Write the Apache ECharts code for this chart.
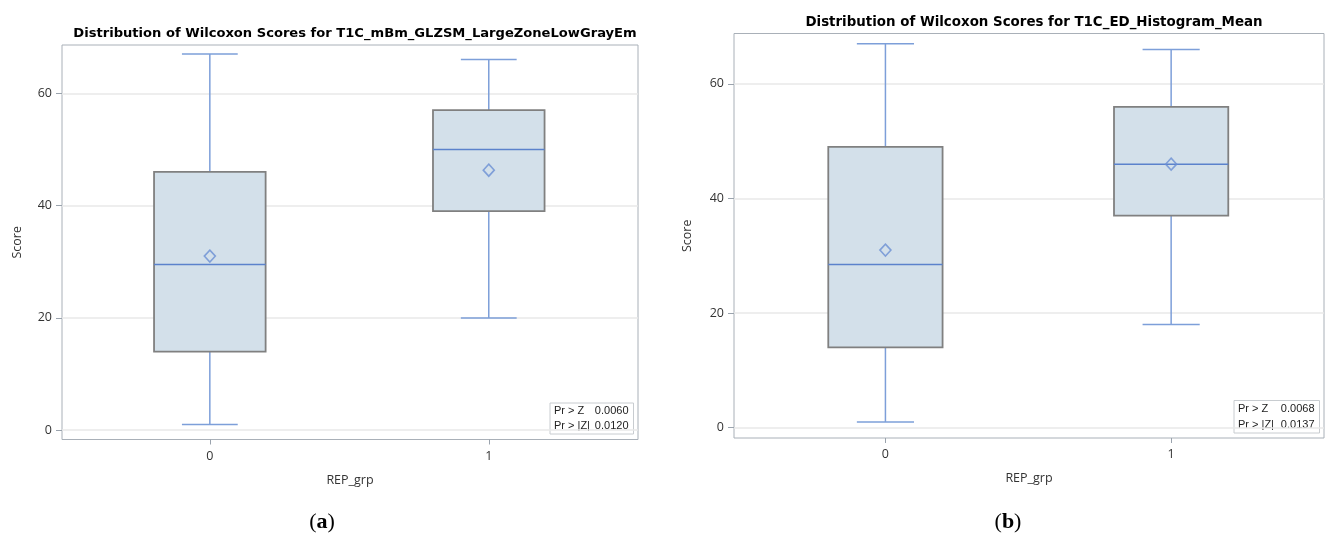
<!DOCTYPE html>
<html>
<head>
<meta charset="utf-8">
<script src="https://cdn.jsdelivr.net/npm/echarts@6/dist/echarts.min.js"></script>
<style>
  html, body { margin: 0; padding: 0; background: #fff; }
  #chart { width: 1325px; height: 540px; }
</style>
</head>
<body>
<div id="chart"></div>
<script>
// Group labels on the x axis
const groups = ['0', '1'];
const groupPos = [0, 1];
const yTicks = [0, 20, 40, 60];

// (a) T1C_mBm_GLZSM_LargeZoneLowGrayEm — five-number summary per group
const aWhiskerLow = [1, 20];
const aQ1 = [14, 39];
const aMedian = [29.5, 50];
const aQ3 = [46, 57];
const aWhiskerHigh = [67, 66];
const aMean = [31, 46.3];
const aStats = [['Pr > Z', '0.0060'], ['Pr > |Z|', '0.0120']];

// (b) T1C_ED_Histogram_Mean — five-number summary per group
const bWhiskerLow = [1, 18];
const bQ1 = [14, 37];
const bMedian = [28.5, 46];
const bQ3 = [49, 56];
const bWhiskerHigh = [67, 66];
const bMean = [31, 46];
const bStats = [['Pr > Z', '0.0068'], ['Pr > |Z|', '0.0137']];

const titleA = 'Distribution of Wilcoxon Scores for T1C_mBm_GLZSM_LargeZoneLowGrayEm';
const titleB = 'Distribution of Wilcoxon Scores for T1C_ED_Histogram_Mean';

const FONT = "'Open Sans', 'Liberation Sans', sans-serif";
const TITLE_FONT = "'DejaVu Sans', 'Liberation Sans', sans-serif";
const WHISKER = '#7d9fd9';
const MEDIAN = '#5b82cc';
const BOX_FILL = '#d3e0ea';
const BOX_EDGE = '#808080';

function boxRows(lo, q1, med, q3, hi) {
  return groupPos.map((x, i) => [x, lo[i], q1[i], med[i], q3[i], hi[i]]);
}

function renderBox(params, api) {
  const x = api.value(0);
  const pLo = api.coord([x, api.value(1)]);
  const pQ1 = api.coord([x, api.value(2)]);
  const pMed = api.coord([x, api.value(3)]);
  const pQ3 = api.coord([x, api.value(4)]);
  const pHi = api.coord([x, api.value(5)]);
  const boxW = api.size([0.4, 0])[0];
  const capW = api.size([0.2, 0])[0];
  const cx = pMed[0];
  const wStyle = { stroke: WHISKER, lineWidth: 1.5 };
  return {
    type: 'group',
    children: [
      { type: 'line', shape: { x1: cx, y1: pLo[1], x2: cx, y2: pQ1[1] }, style: wStyle },
      { type: 'line', shape: { x1: cx, y1: pQ3[1], x2: cx, y2: pHi[1] }, style: wStyle },
      { type: 'line', shape: { x1: cx - capW / 2, y1: pLo[1], x2: cx + capW / 2, y2: pLo[1] }, style: wStyle },
      { type: 'line', shape: { x1: cx - capW / 2, y1: pHi[1], x2: cx + capW / 2, y2: pHi[1] }, style: wStyle },
      { type: 'rect', shape: { x: cx - boxW / 2, y: pQ3[1], width: boxW, height: pQ1[1] - pQ3[1] },
        style: { fill: BOX_FILL, stroke: BOX_EDGE, lineWidth: 1.8 } },
      { type: 'line', shape: { x1: cx - boxW / 2, y1: pMed[1], x2: cx + boxW / 2, y2: pMed[1] },
        style: { stroke: MEDIAN, lineWidth: 1.5 } }
    ]
  };
}

function xAxisFor(gridIndex) {
  return {
    type: 'value', gridIndex: gridIndex, min: -0.53, max: 1.535, position: 'bottom',
    name: 'REP_grp', nameLocation: 'middle', nameGap: 34,
    nameTextStyle: { fontFamily: FONT, fontSize: 12.5, color: '#333' },
    axisLine: { show: false, onZero: false },
    axisTick: { show: true, length: 5, customValues: groupPos, lineStyle: { color: '#9aa3ad' } },
    axisLabel: { customValues: groupPos, margin: 10, fontFamily: FONT, fontSize: 12.5, color: '#333',
      formatter: v => groups[Math.round(v)] },
    splitLine: { show: false }
  };
}

function yAxisFor(gridIndex, min, max, gap) {
  return {
    type: 'value', gridIndex: gridIndex, min: min, max: max, position: 'left',
    name: 'Score', nameLocation: 'middle', nameGap: gap, nameRotate: 90,
    nameTextStyle: { fontFamily: FONT, fontSize: 12.5, color: '#333' },
    axisLine: { show: false, onZero: false },
    axisTick: { show: true, length: 6, customValues: yTicks, lineStyle: { color: '#9aa3ad' } },
    axisLabel: { customValues: yTicks, margin: 10, fontFamily: FONT, fontSize: 12.5, color: '#333' },
    splitLine: { show: true, lineStyle: { color: '#e9e9e9', width: 1.5 } }
  };
}

function statsBox(stats, x, y, w, h) {
  const rowH = h / 2;
  const children = [
    { type: 'rect', shape: { x: 0, y: 0, width: w, height: h },
      style: { fill: '#fff', stroke: '#c8ccd0', lineWidth: 1 } }
  ];
  stats.forEach((row, i) => {
    children.push({ type: 'text', x: 4, y: rowH * i + rowH / 2,
      style: { text: row[0], fontFamily: "'Liberation Sans', sans-serif", fontSize: 11, fill: '#222',
        verticalAlign: 'middle', align: 'left' } });
    children.push({ type: 'text', x: w - 5, y: rowH * i + rowH / 2,
      style: { text: row[1], fontFamily: "'Liberation Sans', sans-serif", fontSize: 11, fill: '#222',
        verticalAlign: 'middle', align: 'right' } });
  });
  return { type: 'group', x: x, y: y, z: 100, children: children };
}

function captionText(letter) {
  return '{p|(}{b|' + letter + '}{p|)}';
}
const captionRich = {
  p: { fontFamily: "'Liberation Serif', serif", fontSize: 22, color: '#000' },
  b: { fontFamily: "'Liberation Serif', serif", fontSize: 22, fontWeight: 'bold', color: '#000' }
};

const chart = echarts.init(document.getElementById('chart'));
chart.setOption({
  backgroundColor: '#fff',
  animation: false,
  title: [
    { text: titleA, left: 350, top: 22, textAlign: 'center',
      textStyle: { fontFamily: TITLE_FONT, fontWeight: 'bold', fontSize: 13.1, color: '#000' } },
    { text: titleB, left: 1029, top: 11, textAlign: 'center',
      textStyle: { fontFamily: TITLE_FONT, fontWeight: 'bold', fontSize: 13.4, color: '#000' } }
  ],
  grid: [
    { left: 62, top: 45, width: 576, height: 394.5, show: true, borderColor: '#a9b0b8', borderWidth: 1, backgroundColor: 'transparent' },
    { left: 734, top: 33.5, width: 590, height: 404.5, show: true, borderColor: '#a9b0b8', borderWidth: 1, backgroundColor: 'transparent' }
  ],
  xAxis: [xAxisFor(0), xAxisFor(1)],
  yAxis: [yAxisFor(0, -1.66, 68.6, 38), yAxisFor(1, -1.8, 68.8, 40)],
  series: [
    { type: 'custom', xAxisIndex: 0, yAxisIndex: 0, renderItem: renderBox,
      encode: { x: 0, y: [1, 2, 3, 4, 5] },
      data: boxRows(aWhiskerLow, aQ1, aMedian, aQ3, aWhiskerHigh) },
    { type: 'scatter', xAxisIndex: 0, yAxisIndex: 0, symbol: 'diamond', symbolSize: [11, 12],
      itemStyle: { color: 'transparent', borderColor: '#6a8fd3', borderWidth: 1.6 }, z: 5,
      data: groupPos.map((x, i) => [x, aMean[i]]) },
    { type: 'custom', xAxisIndex: 1, yAxisIndex: 1, renderItem: renderBox,
      encode: { x: 0, y: [1, 2, 3, 4, 5] },
      data: boxRows(bWhiskerLow, bQ1, bMedian, bQ3, bWhiskerHigh) },
    { type: 'scatter', xAxisIndex: 1, yAxisIndex: 1, symbol: 'diamond', symbolSize: [11, 12],
      itemStyle: { color: 'transparent', borderColor: '#6a8fd3', borderWidth: 1.6 }, z: 5,
      data: groupPos.map((x, i) => [x, bMean[i]]) }
  ],
  graphic: [
    statsBox(aStats, 550, 403, 83.5, 31),
    statsBox(bStats, 1234, 400.5, 85.5, 32.5),
    { type: 'text', x: 322, y: 522, style: { text: captionText('a'), rich: captionRich, align: 'center', verticalAlign: 'middle' } },
    { type: 'text', x: 1008, y: 522, style: { text: captionText('b'), rich: captionRich, align: 'center', verticalAlign: 'middle' } }
  ]
});
</script>
</body>
</html>
